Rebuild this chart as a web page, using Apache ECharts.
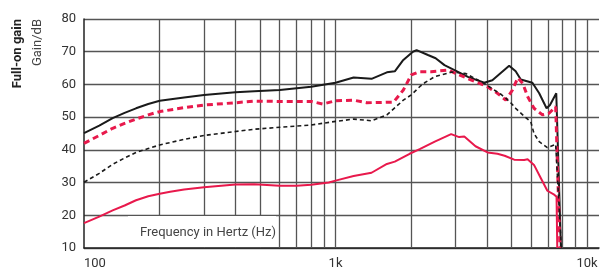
<!DOCTYPE html>
<html><head><meta charset="utf-8">
<script src="https://cdn.jsdelivr.net/npm/echarts@6/dist/echarts.min.js"></script>
<style>html,body{margin:0;padding:0;background:#fff}#c{width:602px;height:270px}</style>
</head><body><div id="c"></div>
<script>
// Frequency (Hz), gain (dB)
const blackSolid = [[100,45.1],[115,47.4],[130,49.7],[145,51.3],[161,52.7],[180,54.0],[200,55.0],[250,56.0],[300,56.8],[400,57.6],[475,57.9],[600,58.3],[800,59.3],[1000,60.5],[1180,62.1],[1390,61.7],[1600,63.7],[1720,64.0],[1850,67.3],[2030,70.0],[2100,70.5],[2330,69.0],[2500,68.0],[2710,65.9],[2970,64.4],[3360,62.3],[3900,60.5],[4200,61.3],[4900,65.7],[5200,64.0],[5450,61.5],[6060,60.5],[6450,57.3],[6900,52.7],[7120,53.7],[7540,57.3],[7870,10]];
const redDashed = [[100,42.0],[115,44.4],[130,46.6],[145,48.1],[161,49.4],[180,50.7],[200,51.7],[250,52.9],[300,53.7],[400,54.4],[475,54.9],[600,54.8],[800,54.8],[890,54.0],[1000,55.0],[1180,55.2],[1330,54.4],[1700,54.6],[1860,58.3],[2000,62.9],[2160,63.9],[2400,63.9],[2800,64.4],[3000,63.4],[3450,61.4],[4000,59.4],[4400,57.3],[4750,55.2],[5050,58.3],[5300,62.0],[5550,60.3],[5800,56.3],[6150,52.7],[6650,50.7],[7060,51.2],[7500,53.2],[7800,10]];
const blackDashed = [[100,30.1],[115,32.8],[130,35.6],[145,37.5],[161,39.2],[180,40.4],[200,41.5],[250,43.2],[300,44.4],[400,45.6],[475,46.3],[600,46.9],[800,47.6],[1000,48.7],[1180,49.4],[1390,48.9],[1600,50.7],[1860,55.2],[2000,56.8],[2160,59.3],[2260,60.5],[2480,62.4],[2630,62.9],[2900,63.8],[3300,63.3],[3900,60.3],[4540,57.0],[4750,55.8],[5000,54.2],[5200,52.7],[5650,50.1],[5970,48.6],[6150,45.0],[6450,42.5],[6950,40.7],[7500,41.7],[7900,10]];
const redSolid = [[100,17.6],[115,19.6],[130,21.5],[145,23.0],[161,24.6],[180,25.8],[200,26.6],[220,27.2],[250,27.9],[300,28.6],[400,29.4],[475,29.5],[600,29.0],[700,29.0],[800,29.3],[940,30.0],[1000,30.6],[1180,32.0],[1390,33.0],[1600,35.7],[1720,36.4],[1970,38.8],[2160,40.2],[2480,42.5],[2880,44.8],[3100,43.9],[3250,44.1],[3600,41.1],[4020,39.2],[4400,38.8],[4700,38.2],[5130,37.0],[5620,36.9],[5800,37.1],[6150,35.4],[6550,31.3],[6950,27.5],[7400,26.3],[7560,25.7],[7610,10]];
const gridFreqs = [200,300,400,500,600,700,800,900,1000,2000,3000,4000,5000,6000,7000,8000,9000,10000];
const xTickLabels = {100:'100',1000:'1k',10000:'10k'};
const yTicks = [10,20,30,40,50,60,70,80];

const RED = '#e8194c';
const FONT = 'Roboto';
const chart = echarts.init(document.getElementById('c'), null, {renderer:'canvas'});
chart.setOption({
  animation:false,
  grid:{left:84,right:0,top:19,bottom:22},
  xAxis:{type:'log',logBase:10,min:100,max:11150,
    axisLine:{show:true,lineStyle:{color:'#222',width:1.5}},
    axisTick:{show:false},
    splitLine:{show:false},
    axisLabel:{color:'#333',fontSize:13,fontFamily:FONT,margin:9,alignMinLabel:'left',
      formatter:v=>xTickLabels[Math.round(v)]||''}},
  yAxis:{type:'value',min:yTicks[0],max:yTicks[yTicks.length-1],interval:10,
    axisLine:{show:true,lineStyle:{color:'#222',width:1.5}},
    axisTick:{show:false},
    splitLine:{show:true,lineStyle:{color:'#555',width:1.3}},
    axisLabel:{color:'#333',fontSize:13,fontFamily:FONT,margin:8}},
  graphic:[
    {type:'text',x:18,y:19,rotation:Math.PI/2,style:{text:'Full-on gain',fontSize:13,fontWeight:'bold',fontFamily:FONT,fill:'#222',align:'right',verticalAlign:'middle'}},
    {type:'text',x:38,y:19,rotation:Math.PI/2,style:{text:'Gain/dB',fontSize:13,fontFamily:FONT,fill:'#444',align:'right',verticalAlign:'middle'}},
    {type:'rect',z:20,shape:{x:128,y:216,width:148,height:31},style:{fill:'#fff'}},
    {type:'text',z:21,x:208,y:233,style:{text:'Frequency in Hertz (Hz)',fontSize:13,fontFamily:FONT,fill:'#444',align:'center',verticalAlign:'middle'}}
  ],
  series:[
    {type:'line',data:[],silent:true,z:1,
      markLine:{silent:true,z:1,symbol:'none',label:{show:false},
        lineStyle:{color:'#555',width:1.3,type:'solid'},
        data:gridFreqs.map(f=>({xAxis:f}))}},
    {type:'line',z:10,data:blackSolid,showSymbol:false,lineStyle:{color:'#1a1a1a',width:2}},
    {type:'line',z:10,data:redDashed,showSymbol:false,lineStyle:{color:RED,width:3,type:[6,4]}},
    {type:'line',z:10,data:blackDashed,showSymbol:false,lineStyle:{color:'#1a1a1a',width:1.6,type:[4,3]}},
    {type:'line',z:10,data:redSolid,showSymbol:false,lineStyle:{color:RED,width:2}}
  ]
});
</script></body></html>
